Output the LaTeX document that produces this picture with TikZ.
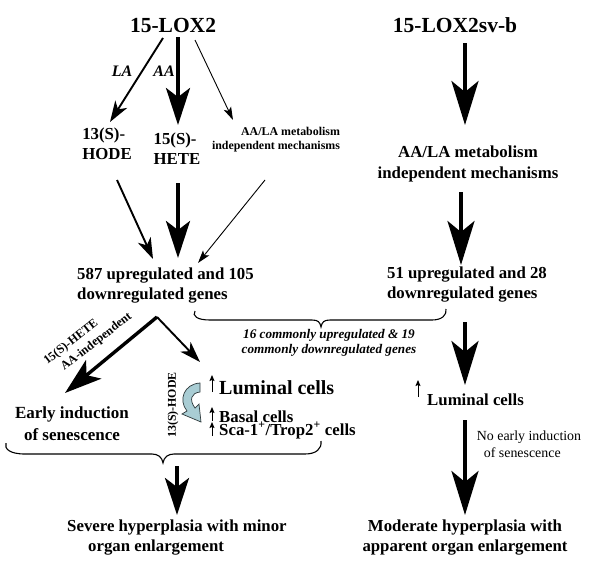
\documentclass[tikz,border=0pt]{standalone}
\usepackage{fontspec}
\setmainfont{Liberation Serif}
\usetikzlibrary{arrows.meta,calc}
\definecolor{curvfill}{HTML}{A9CDD4}
\definecolor{curvline}{HTML}{2F3A3C}
\begin{document}
\begin{tikzpicture}[x=1pt,y=-1pt,
  every node/.style={inner sep=0pt,font=\bfseries},
  big/.style={font=\fontsize{21.5}{24}\selectfont\bfseries},
  txt/.style={font=\fontsize{16.8}{20}\selectfont\bfseries},
  small/.style={font=\fontsize{11.9}{14}\selectfont\bfseries},
  ital/.style={font=\fontsize{13.2}{15}\selectfont\bfseries\itshape},
  heavy/.style={line width=3.4pt,-{Stealth[length=37pt,width=24pt,inset=9pt]}},
  huge/.style={line width=3.4pt,-{Stealth[length=44pt,width=27pt,inset=11pt]}},
  medium/.style={line width=1.9pt,-{Stealth[length=21pt,width=14pt,inset=6pt]}},
  thinarr/.style={line width=0.9pt,-{Stealth[length=13pt,width=8pt,inset=3pt]}},
  uparr/.style={line width=0.9pt,-{Stealth[length=6pt,width=5pt,inset=1pt]}},
  bracestyle/.style={line width=1.1pt}]
\useasboundingbox (0,0) rectangle (600,562);
\fill[white] (0,0) rectangle (600,562);

% titles
\node[big] (lox2) at (173,25) {15-LOX2};
\node[big] (sv) at (455,25) {15-LOX2sv-b};

% arrow labels
\node[font=\fontsize{16}{18}\selectfont\bfseries\itshape] (la) at (122,71) {LA};
\node[font=\fontsize{16}{18}\selectfont\bfseries\itshape] (aa) at (164,71) {AA};

% second row
\node[txt,align=left] (hode) at (107,144) {13(S)-\\HODE};
\node[txt,align=left] (hete) at (177,149) {15(S)-\\HETE};
\node[small,align=right] (indep1) at (276,140) {AA/LA metabolism\\independent mechanisms};
\node[txt,align=center,font=\fontsize{16.8}{20.5}\selectfont\bfseries] (indep2) at (468,164) {AA/LA metabolism\\independent mechanisms};

% gene counts
\node[txt,align=left] (genes1) at (165.5,286) {587 upregulated and 105\\downregulated genes};
\node[txt,align=left] (genes2) at (467,285) {51 upregulated and 28\\downregulated genes};
\node[ital,align=center] (common) at (329,343) {16 commonly upregulated \& 19\\commonly downregulated genes};

% lower left
\node[txt,align=center,font=\fontsize{17}{22}\selectfont\bfseries] (early) at (72,424) {Early induction\\of senescence};
\node[rotate=38,align=left,font=\fontsize{12.2}{15}\selectfont\bfseries] (hetelab) at (88,339) {15(S)-HETE\\\hspace*{10pt}AA-independent};
\node[small,rotate=90] (hoderot) at (173,405) {13(S)-HODE};
\node[font=\fontsize{20}{22}\selectfont\bfseries,anchor=base west] (lum1) at (219,394) {Luminal cells};
\node[txt,anchor=base west] (basal) at (219,422) {Basal cells};
\node[txt,anchor=base west] (sca) at (219,435) {Sca-1\textsuperscript{+}/Trop2\textsuperscript{+} cells};

% lower right
\node[txt,anchor=base west] (lum2) at (427,405) {Luminal cells};
\node[font=\fontsize{13.9}{17}\selectfont,align=left] (noearly) at (529,444) {No early induction\\\hspace*{7pt}of senescence};

% outcomes
\node[txt,align=left,anchor=west] (severe) at (67,538) {Severe hyperplasia with minor\\\hspace*{21pt}organ enlargement};
\node[txt,align=center] (moderate) at (465,538) {Moderate hyperplasia with\\apparent organ enlargement};

% top arrows
\draw[medium] ($(lox2)+(-10,13)$) -- ($(hode)+(3,-22)$);
\draw[heavy] ($(lox2)+(5,12)$) -- ($(hete)+(1,-24)$);
\draw[thinarr] ($(lox2)+(22,15)$) -- ($(indep1)+(-43,-20)$);
\draw[huge] ($(sv)+(10,18)$) -- ($(indep2)+(-3,-39)$);

% arrows to gene counts
\draw[medium] ($(hode)+(10,36)$) -- ($(genes1)+(-12.5,-27)$);
\draw[heavy] ($(hete)+(1,34)$) -- ($(genes1)+(12.5,-28)$);
\draw[thinarr] ($(indep1)+(-11,40)$) -- ($(genes1)+(32.5,-23)$);
\draw[huge] ($(indep2)+(-7,28)$) -- ($(genes2)+(-6,-20)$);

% right column lower arrows
\draw[huge] ($(genes2)+(-2,37)$) -- ($(lum2.base west)+(38,-20)$);
\draw[huge] ($(lum2.base west)+(38,15)$) -- ($(moderate)+(0,-23)$);

% left lower arrows
\draw[heavy] ($(genes1)+(-8.5,31)$) -- ($(early)+(-7,-31)$);
\draw[medium] ($(genes1)+(-8.5,31)$) -- ($(lum1.base west)+(-19,-32)$);

% small up arrows
\draw[uparr] ($(lum1.base west)+(-7,-2)$) -- ($(lum1.base west)+(-7,-19)$);
\draw[uparr] ($(basal.base west)+(-7,-1)$) -- ($(basal.base west)+(-7,-15)$);
\draw[uparr] ($(sca.base west)+(-7,1)$) -- ($(sca.base west)+(-7,-13)$);
\draw[uparr] ($(lum2.base west)+(-9,-8)$) -- ($(lum2.base west)+(-9,-25)$);

% curved arrow (13(S)-HODE)
\draw[curvline,line width=0.7pt,fill=curvfill]
  (200,383) .. controls (184,384) and (178,400) .. (187,411)
  -- (182,414) -- (201,422) -- (199,404) -- (195,408)
  .. controls (189,400) and (191,393) .. (200,392) -- cycle;

% upper brace
\draw[bracestyle] (195,311) .. controls (192,316) and (197,320) .. (210,320)
  -- (312,320) .. controls (318,320) and (320,322) .. (321,327)
  .. controls (322,322) and (324,320) .. (330,320)
  -- (432,320) .. controls (442,320) and (447,315) .. (446,309);

% lower brace
\draw[bracestyle] (6,443) .. controls (4,449) and (10,454) .. (25,454)
  -- (152,454) .. controls (158,454) and (162,457) .. (163,463)
  .. controls (164,457) and (168,454) .. (174,454)
  -- (305,454) .. controls (316,454) and (322,449) .. (321,441);

\coordinate (bracetip) at (177,466);
\draw[heavy] (bracetip) -- ($(severe.west)+(110,-23)$);
\end{tikzpicture}
\end{document}
